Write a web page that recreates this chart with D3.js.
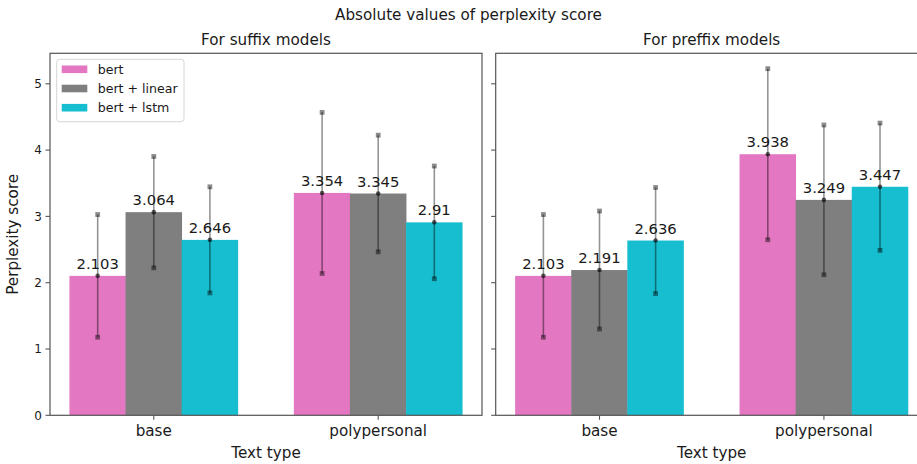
<!DOCTYPE html>
<html>
<head>
<meta charset="utf-8">
<script src="https://cdn.jsdelivr.net/npm/d3@7"></script>
<style>
html,body{margin:0;padding:0;background:#fff;overflow:hidden;}
svg{display:block;font-family:"DejaVu Sans",sans-serif;}
</style>
</head>
<body>
<svg id="chart" width="917" height="464"></svg>
<script>
const categories = ["base", "polypersonal"];
const seriesNames = ["bert", "bert + linear", "bert + lstm"];
const seriesColors = ["#e377c2", "#7f7f7f", "#17becf"];
const yTicks = [0, 1, 2, 3, 4, 5];

const suffixBert = [2.103, 3.354];
const suffixLinear = [3.064, 3.345];
const suffixLstm = [2.646, 2.91];
const suffixBertErr = [0.925, 1.215];
const suffixLinearErr = [0.84, 0.88];
const suffixLstmErr = [0.80, 0.85];

const prefixBert = [2.103, 3.938];
const prefixLinear = [2.191, 3.249];
const prefixLstm = [2.636, 3.447];
const prefixBertErr = [0.925, 1.29];
const prefixLinearErr = [0.89, 1.13];
const prefixLstmErr = [0.80, 0.96];

const panels = [
  {title: "For suffix models", values: [suffixBert, suffixLinear, suffixLstm],
   errs: [suffixBertErr, suffixLinearErr, suffixLstmErr], x0: 50, showY: true, legend: true},
  {title: "For preffix models", values: [prefixBert, prefixLinear, prefixLstm],
   errs: [prefixBertErr, prefixLinearErr, prefixLstmErr], x0: 495.7, showY: false, legend: false}
];

const svg = d3.select("#chart");
const plotTop = 53.3, plotBottom = 415.3, pw = 432;
const barW = 0.25;
const y = d3.scaleLinear().domain([0, 5.46]).range([plotBottom, plotTop]);
const spine = "#555";
const txt = "#1a1a1a";

svg.append("text").attr("x", 468.5).attr("y", 20).attr("text-anchor", "middle")
  .attr("font-size", 15.2).attr("fill", txt).text("Absolute values of perplexity score");

svg.append("text").attr("transform", `translate(18,${(plotTop+plotBottom)/2}) rotate(-90)`)
  .attr("text-anchor", "middle").attr("font-size", 15.2).attr("fill", txt).text("Perplexity score");

panels.forEach(p => {
  const x = d3.scaleLinear().domain([-0.4625, 1.4625]).range([p.x0, p.x0 + pw]);
  const g = svg.append("g");

  // bars
  p.values.forEach((vals, si) => {
    const off = (si - 1) * barW;
    g.selectAll(null).data(vals).enter().append("rect")
      .attr("x", (d, i) => x(i + off - barW/2) - 0.2)
      .attr("width", x(barW) - x(0) + 0.4)
      .attr("y", d => y(d))
      .attr("height", d => y(0) - y(d))
      .attr("fill", seriesColors[si]);
  });

  // error bars
  p.values.forEach((vals, si) => {
    const off = (si - 1) * barW;
    const errs = p.errs[si];
    vals.forEach((v, i) => {
      const cx = x(i + off);
      const e = errs[i];
      g.append("line").attr("x1", cx).attr("x2", cx)
        .attr("y1", y(v - e)).attr("y2", y(v + e))
        .attr("stroke", "rgba(0,0,0,0.42)").attr("stroke-width", 1.6);
      [v - e, v + e].forEach(c => {
        g.append("rect").attr("x", cx - 2.4).attr("y", y(c) - 2.4)
          .attr("width", 4.8).attr("height", 4.8).attr("fill", "rgba(0,0,0,0.45)");
      });
      g.append("circle").attr("cx", cx).attr("cy", y(v)).attr("r", 2.3)
        .attr("fill", "rgba(0,0,0,0.62)");
    });
  });

  // value labels
  p.values.forEach((vals, si) => {
    const off = (si - 1) * barW;
    g.selectAll(null).data(vals).enter().append("text")
      .attr("x", (d, i) => x(i + off))
      .attr("y", d => y(d) - 7)
      .attr("text-anchor", "middle").attr("font-size", 14.8).attr("fill", txt)
      .text(d => String(d));
  });

  // frame
  g.append("rect").attr("x", p.x0).attr("y", plotTop).attr("width", pw).attr("height", plotBottom - plotTop)
    .attr("fill", "none").attr("stroke", spine).attr("stroke-width", 1.2);

  // y ticks
  yTicks.forEach(t => {
    g.append("line").attr("x1", p.x0 - 4.5).attr("x2", p.x0).attr("y1", y(t)).attr("y2", y(t))
      .attr("stroke", spine).attr("stroke-width", 1.1);
    if (p.showY) {
      g.append("text").attr("x", p.x0 - 8).attr("y", y(t)).attr("dy", "0.36em")
        .attr("text-anchor", "end").attr("font-size", 12).attr("fill", txt).text(t);
    }
  });

  // x ticks
  categories.forEach((c, i) => {
    g.append("line").attr("x1", x(i)).attr("x2", x(i)).attr("y1", plotBottom).attr("y2", plotBottom + 4.5)
      .attr("stroke", spine).attr("stroke-width", 1.1);
    g.append("text").attr("x", x(i)).attr("y", 436).attr("text-anchor", "middle")
      .attr("font-size", 15.2).attr("fill", txt).text(c);
  });

  g.append("text").attr("x", p.x0 + pw/2).attr("y", 458).attr("text-anchor", "middle")
    .attr("font-size", 15.2).attr("fill", txt).text("Text type");

  g.append("text").attr("x", p.x0 + pw/2).attr("y", 45).attr("text-anchor", "middle")
    .attr("font-size", 15.2).attr("fill", txt).text(p.title);

  if (p.legend) {
    const lg = g.append("g");
    lg.append("rect").attr("x", 56.7).attr("y", 59.3).attr("width", 127.3).attr("height", 62.4)
      .attr("rx", 3).attr("fill", "rgba(255,255,255,0.8)").attr("stroke", "#d6d6d6").attr("stroke-width", 1);
    seriesNames.forEach((n, si) => {
      const cy = 69.3 + si * 19.2;
      lg.append("rect").attr("x", 61.7).attr("y", cy - 3.8).attr("width", 25.6).attr("height", 7.6)
        .attr("fill", seriesColors[si]);
      lg.append("text").attr("x", 97.7).attr("y", cy).attr("dy", "0.36em")
        .attr("font-size", 12.6).attr("fill", txt).text(n);
    });
  }
});
</script>
</body>
</html>
